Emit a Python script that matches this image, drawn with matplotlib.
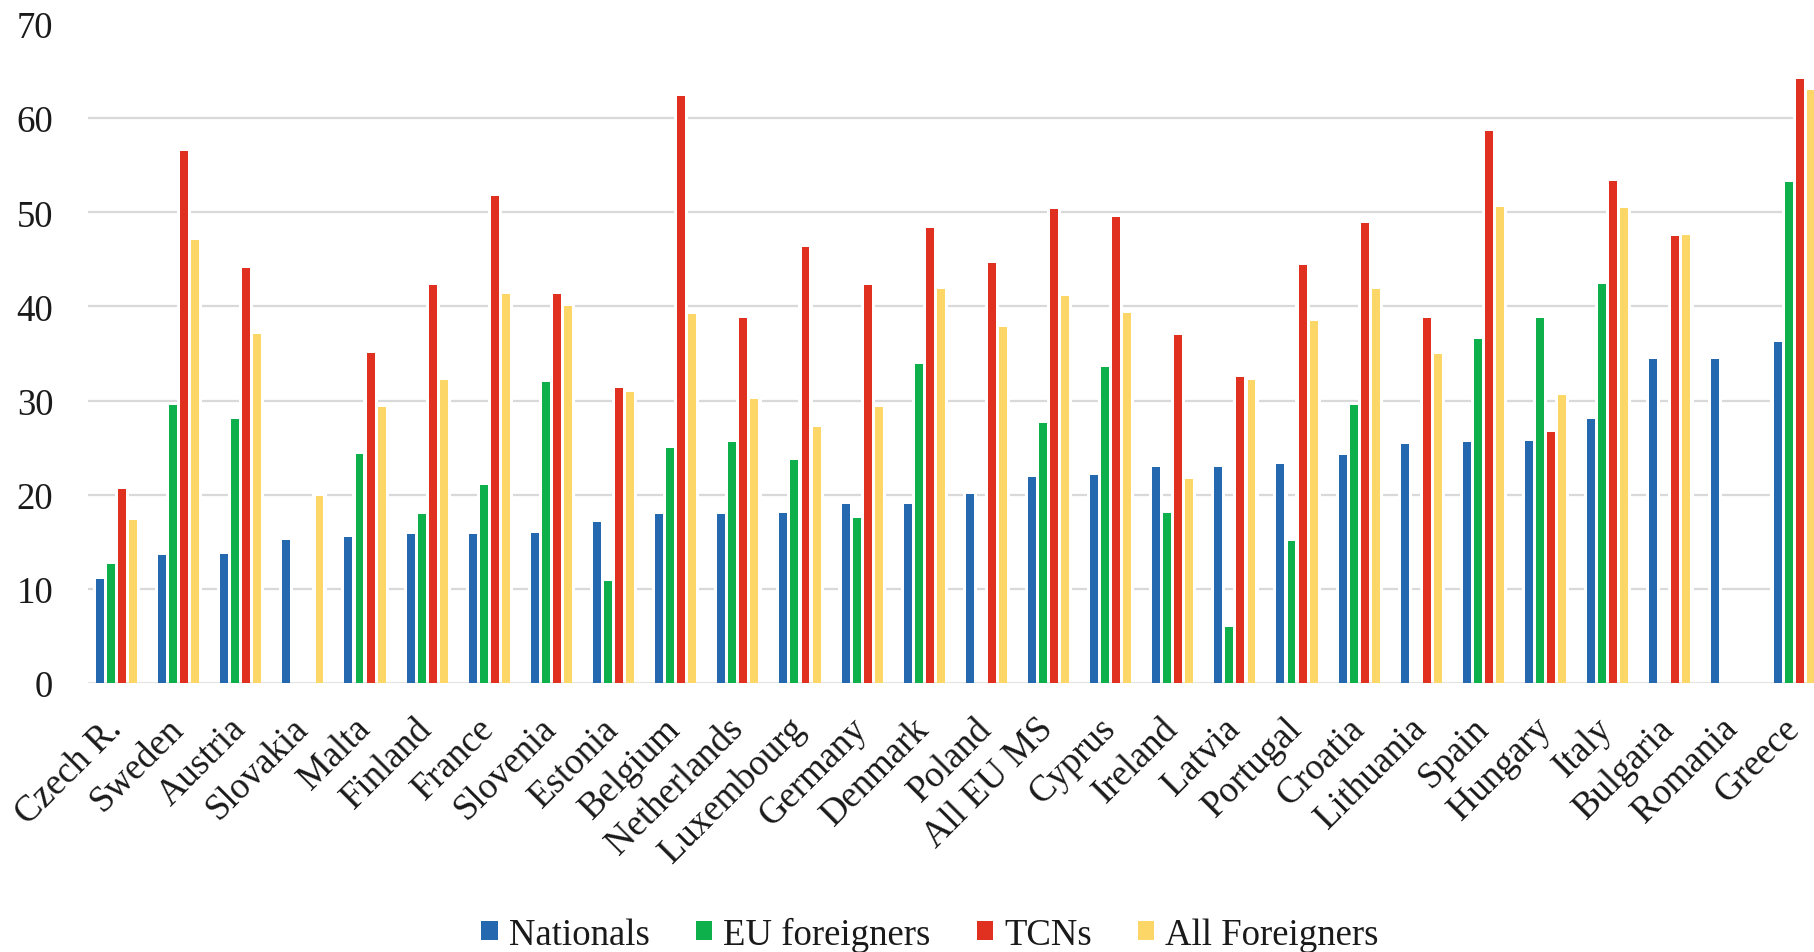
import numpy as np
import matplotlib
matplotlib.use("Agg")
import matplotlib.pyplot as plt
from matplotlib.patches import Patch
from matplotlib.transforms import ScaledTranslation

nan = np.nan

countries = ["Czech R.", "Sweden", "Austria", "Slovakia", "Malta", "Finland",
             "France", "Slovenia", "Estonia", "Belgium", "Netherlands",
             "Luxembourg", "Germany", "Denmark", "Poland", "All EU MS",
             "Cyprus", "Ireland", "Latvia", "Portugal", "Croatia", "Lithuania",
             "Spain", "Hungary", "Italy", "Bulgaria", "Romania", "Greece"]

nationals = [11.1, 13.6, 13.7, 15.2, 15.5, 15.8, 15.8, 15.9, 17.1, 17.9, 18.0,
             18.1, 19.0, 19.0, 20.1, 21.9, 22.1, 22.9, 22.9, 23.3, 24.2, 25.4,
             25.6, 25.7, 28.0, 34.4, 34.4, 36.2]
eu_foreigners = [12.6, 29.5, 28.0, nan, 24.3, 17.9, 21.0, 32.0, 10.8, 25.0,
                 25.6, 23.7, 17.5, 33.9, nan, 27.6, 33.6, 18.1, 6.0, 15.1,
                 29.5, nan, 36.5, 38.8, 42.4, nan, nan, 53.2]
tcns = [20.6, 56.5, 44.1, nan, 35.1, 42.3, 51.7, 41.3, 31.3, 62.4, 38.8, 46.3,
        42.3, 48.3, 44.6, 50.4, 49.5, 37.0, 32.5, 44.4, 48.9, 38.8, 58.6, 26.7,
        53.3, 47.5, nan, 64.2]
all_foreigners = [17.3, 47.1, 37.1, 19.9, 29.3, 32.2, 41.3, 40.0, 30.9, 39.2,
                  30.2, 27.2, 29.3, 41.9, 37.8, 41.1, 39.3, 21.7, 32.2, 38.5,
                  41.9, 35.0, 50.6, 30.6, 50.5, 47.6, nan, 63.0]

series_names = ["Nationals", "EU foreigners", "TCNs", "All Foreigners"]
series_values = [nationals, eu_foreigners, tcns, all_foreigners]
series_colors = ["#2469B0", "#0DB04B", "#E0301F", "#FCD767"]
y_ticks = [0, 10, 20, 30, 40, 50, 60, 70]

plt.rcParams["font.family"] = ["Liberation Serif", "DejaVu Serif"]
TEXT = "#1a1a1a"
W, H = 1814, 953
fig = plt.figure(figsize=(W / 100, H / 100), dpi=100)
ax = fig.add_axes([88 / W, 1 - 684 / H, 1 - 88 / W, (684 - 25) / H])

x = np.arange(len(countries))
pitch = 0.178
bar_w = 0.128
halo = 0.05

for v in y_ticks[1:-1]:
    ax.axhline(v, color="#D9D9D9", lw=1.6, zorder=1)

for k, (vals, col) in enumerate(zip(series_values, series_colors)):
    vals = np.asarray(vals, dtype=float)
    ok = np.isfinite(vals)
    xs = x[ok] + (k - 1.5) * pitch
    # white rim around each bar that interrupts the gridlines
    ax.bar(xs, vals[ok] + 0.3, width=bar_w + 2 * halo, color="white",
           linewidth=0, zorder=2)
    ax.bar(xs, vals[ok], width=bar_w, color=col, linewidth=0, zorder=3)

ax.axhline(0, color="#D9D9D9", lw=1.8, zorder=2.5)

ax.set_xlim(-0.459, 27.32)
ax.set_ylim(0, 70)
for s in ax.spines.values():
    s.set_visible(False)

ax.set_yticks(y_ticks)
ax.set_yticklabels([str(t) for t in y_ticks])
ax.tick_params(axis="y", length=0, pad=25, labelsize=26.5, labelcolor=TEXT)

ax.set_xticks(x)
ax.set_xticklabels(countries, rotation=45, ha="right", va="top")
ax.tick_params(axis="x", length=0, pad=20, labelsize=26.5, labelcolor=TEXT)
shift = ScaledTranslation(12 / 100, 0, fig.dpi_scale_trans)
for lab in ax.get_xticklabels():
    lab.set_transform(lab.get_transform() + shift)

handles = [Patch(facecolor=c, edgecolor="none") for c in series_colors]
fig.legend(handles, series_names, loc="center",
           bbox_to_anchor=(930 / W, 1 - 935 / H), ncol=4, frameon=False,
           handlelength=0.45, handleheight=0.45, handletextpad=0.3,
           columnspacing=1.25, fontsize=26.5, borderaxespad=0, borderpad=0,
           labelcolor=TEXT)

fig.savefig("out.png", dpi=100, facecolor="white")
